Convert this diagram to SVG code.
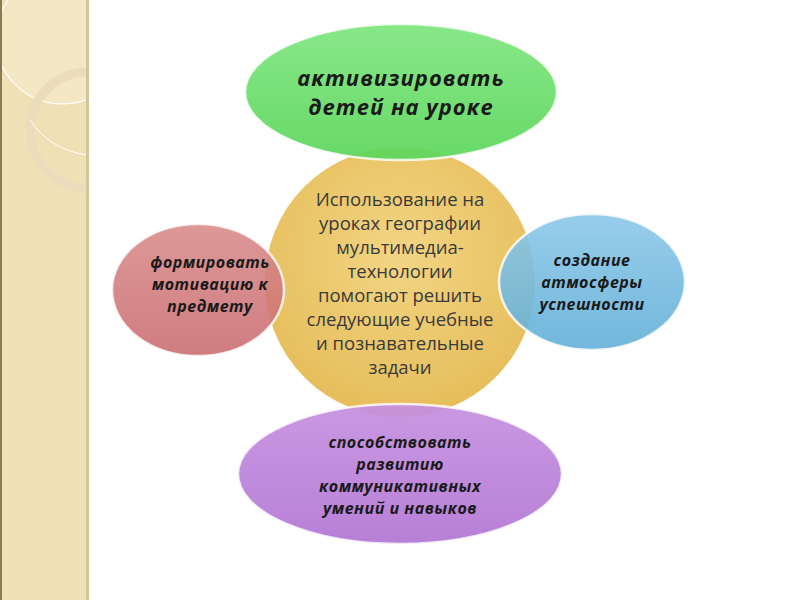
<svg xmlns="http://www.w3.org/2000/svg" width="800" height="600" viewBox="0 0 800 600">
<defs>
<clipPath id="clipStrip"><rect x="0" y="0" width="87" height="600"/></clipPath>
<radialGradient id="gOr" cx="50%" cy="40%" r="60%"><stop offset="0" stop-color="#f2d584"/><stop offset="1" stop-color="#e6bd5a"/></radialGradient>
<linearGradient id="gGr" x1="0" y1="0" x2="0" y2="1"><stop offset="0" stop-color="#7fe67f"/><stop offset="1" stop-color="#5cd65c"/></linearGradient>
<linearGradient id="gRd" x1="0" y1="0" x2="0" y2="1"><stop offset="0" stop-color="#d88a8a"/><stop offset="1" stop-color="#c96a6e"/></linearGradient>
<linearGradient id="gBl" x1="0" y1="0" x2="0" y2="1"><stop offset="0" stop-color="#8cc8e8"/><stop offset="1" stop-color="#62afd8"/></linearGradient>
<linearGradient id="gPu" x1="0" y1="0" x2="0" y2="1"><stop offset="0" stop-color="#c690e0"/><stop offset="1" stop-color="#b276d4"/></linearGradient>
<style>
.sat{stroke:#ffffff;stroke-width:2.5;stroke-opacity:0.8}
.st{font-family:"Open Sans","Liberation Sans",sans-serif;font-style:italic;font-weight:bold;fill:#1a1a1a;text-anchor:middle;letter-spacing:0.5px}
.ct{font-family:"Open Sans","Liberation Sans",sans-serif;font-size:18.5px;fill:#3a3a3a;text-anchor:middle}
</style>
</defs>
<rect width="800" height="600" fill="#ffffff"/>
<g id="strip">
<rect x="0" y="0" width="89" height="600" fill="#f0e0b6"/>
<g clip-path="url(#clipStrip)">
<circle cx="62" cy="38" r="66" fill="#f7edd0" fill-opacity="0.5" stroke="#ffffff" stroke-width="1.2"/>
<circle cx="88" cy="130" r="58" fill="none" stroke="#ebdcbc" stroke-width="9"/>
<path d="M30 120 Q50 150 88 155" fill="none" stroke="#ffffff" stroke-width="1"/>
</g>
<rect x="0" y="0" width="2" height="600" fill="#8a7a55"/>
<rect x="86" y="0" width="3" height="600" fill="#d4c49a"/>
</g>
<g id="center">
<circle cx="400" cy="282" r="136" fill="url(#gOr)" stroke="#ffffff" stroke-width="2"/>
<text class="ct" x="400" y="206">Использование на</text>
<text class="ct" x="400" y="230">уроках географии</text>
<text class="ct" x="400" y="254">мультимедиа-</text>
<text class="ct" x="400" y="278">технологии</text>
<text class="ct" x="400" y="302">помогают решить</text>
<text class="ct" x="400" y="326">следующие учебные</text>
<text class="ct" x="400" y="350">и познавательные</text>
<text class="ct" x="400" y="374">задачи</text>
</g>
<g id="connectors"></g>
<g id="green">
<ellipse cx="401" cy="92" rx="156" ry="68" fill="url(#gGr)" fill-opacity="0.93" class="sat"/>
<text class="st" x="401" y="86" font-size="22" style="letter-spacing:1px">активизировать</text>
<text class="st" x="401" y="115" font-size="22" style="letter-spacing:1px">детей на уроке</text>
</g>
<g id="red">
<ellipse cx="198" cy="290" rx="86" ry="66" fill="url(#gRd)" fill-opacity="0.88" class="sat"/>
<text class="st" x="210" y="268" font-size="16">формировать</text>
<text class="st" x="210" y="290" font-size="16">мотивацию к</text>
<text class="st" x="210" y="312" font-size="16">предмету</text>
</g>
<g id="blue">
<ellipse cx="592" cy="282" rx="93" ry="68" fill="url(#gBl)" fill-opacity="0.9" class="sat"/>
<text class="st" x="592" y="266" font-size="16">создание</text>
<text class="st" x="592" y="288" font-size="16">атмосферы</text>
<text class="st" x="592" y="310" font-size="16">успешности</text>
</g>
<g id="purple">
<ellipse cx="400" cy="474" rx="162" ry="70" fill="url(#gPu)" fill-opacity="0.93" class="sat"/>
<text class="st" x="400" y="448" font-size="16">способствовать</text>
<text class="st" x="400" y="470" font-size="16">развитию</text>
<text class="st" x="400" y="492" font-size="16">коммуникативных</text>
<text class="st" x="400" y="514" font-size="16">умений и навыков</text>
</g>
</svg>
